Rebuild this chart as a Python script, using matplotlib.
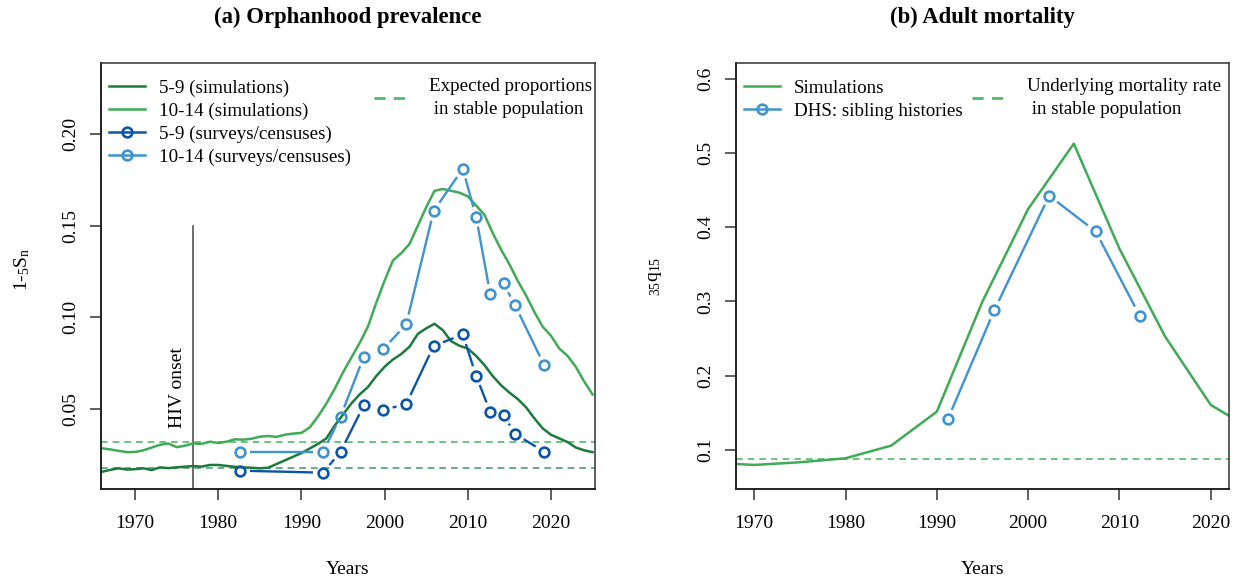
import numpy as np
import matplotlib
matplotlib.use("Agg")
import matplotlib.pyplot as plt
from matplotlib.collections import LineCollection
from matplotlib.lines import Line2D

plt.rcParams['font.family'] = ['Liberation Serif', 'DejaVu Serif']
plt.rcParams['mathtext.default'] = 'regular'
plt.rcParams['mathtext.fontset'] = 'custom'
plt.rcParams['mathtext.rm'] = 'Liberation Serif'

# ---------------- Panel (a) data ----------------
sim_years = list(range(1966, 2026))
sim_5_9 = [0.0158, 0.0168, 0.0177, 0.0170, 0.0172, 0.0177, 0.0167, 0.0182, 0.0178, 0.0182,
           0.0186, 0.0189, 0.0186, 0.0195, 0.0195, 0.0190, 0.0185, 0.0182, 0.0180, 0.0177,
           0.0180, 0.0200, 0.0220, 0.0240, 0.0260, 0.0285, 0.0310, 0.0340, 0.0410, 0.0470,
           0.0530, 0.0580, 0.0620, 0.0680, 0.0730, 0.0770, 0.0800, 0.0840, 0.0910, 0.0940,
           0.0965, 0.0930, 0.0870, 0.0845, 0.0830, 0.0790, 0.0740, 0.0680, 0.0630, 0.0590,
           0.0555, 0.0510, 0.0450, 0.0395, 0.0360, 0.0340, 0.0320, 0.0290, 0.0275, 0.0265]
sim_10_14 = [0.0286, 0.0280, 0.0272, 0.0265, 0.0266, 0.0275, 0.0290, 0.0305, 0.0312, 0.0292,
             0.0300, 0.0313, 0.0310, 0.0322, 0.0315, 0.0322, 0.0335, 0.0333, 0.0338, 0.0349,
             0.0353, 0.0348, 0.0360, 0.0366, 0.0370, 0.0400, 0.0460, 0.0530, 0.0610, 0.0700,
             0.0780, 0.0860, 0.0950, 0.1080, 0.1200, 0.1310, 0.1350, 0.1400, 0.1500, 0.1600,
             0.1690, 0.1700, 0.1690, 0.1680, 0.1660, 0.1610, 0.1560, 0.1460, 0.1370, 0.1290,
             0.1200, 0.1120, 0.1030, 0.0950, 0.0900, 0.0830, 0.0790, 0.0730, 0.0650, 0.0580]

survey_years = [1982.6, 1992.6, 1994.7, 1997.5, 1999.8, 2002.6, 2005.9, 2009.4,
                2011.0, 2012.7, 2014.3, 2015.7, 2019.2]
survey_5_9 = [0.0164, 0.0153, 0.0267, 0.0520, 0.0495, 0.0527, 0.0844, 0.0907,
              0.0682, 0.0485, 0.0467, 0.0364, 0.0267]
survey_10_14 = [0.0267, 0.0267, 0.0458, 0.0785, 0.0825, 0.0962, 0.1580, 0.1810,
                0.1549, 0.1127, 0.1185, 0.1065, 0.0738]

stable_5_9 = 0.0180
stable_10_14 = 0.0322
hiv_onset = 1977.0

# ---------------- Panel (b) data ----------------
mort_years = [1965, 1970, 1975, 1980, 1985, 1990, 1995, 2000, 2005, 2010, 2015, 2020, 2025]
mort_sim = [0.083, 0.0798, 0.0834, 0.0888, 0.1058, 0.1516, 0.300, 0.4244, 0.5124,
            0.3709, 0.2527, 0.1606, 0.124]
dhs_years = [1991.2, 1996.3, 2002.3, 2007.4, 2012.2]
dhs_vals = [0.1414, 0.2883, 0.4423, 0.3942, 0.2810]
stable_mort = 0.0883

# ---------------- colours ----------------
c_dgreen = '#1b7a3c'
c_lgreen = '#3fab57'
c_dblue = '#0b56a4'
c_lblue = '#3f93cf'
c_dash_hi = '#55b86c'
c_dash_lo = '#4f9d78'

FS = 14
LFS = 13.7
W, H = 1240, 581
fig = plt.figure(figsize=(W / 100, H / 100), dpi=100)

def axes_px(left, right, top, bottom):
    return fig.add_axes([left / W, 1 - bottom / H, (right - left) / W, (bottom - top) / H])

axA = axes_px(101, 595, 63, 489)
axB = axes_px(736, 1229, 63, 489)

def style_axes(ax):
    for s in ['top', 'right']:
        ax.spines[s].set_linewidth(1.1)
        ax.spines[s].set_color('#333333')
    for s in ['left', 'bottom']:
        ax.spines[s].set_linewidth(1.4)
        ax.spines[s].set_color('#222222')
    ax.tick_params(axis='both', direction='out', length=8, width=1.1, labelsize=FS,
                   color='#333333')
    ax.tick_params(axis='x', pad=10.5)
    ax.tick_params(axis='y', pad=7.5, labelrotation=90)
    for lab in ax.get_yticklabels():
        lab.set_va('center')

def gapped(ax, x, y, gap_px, color, lw):
    pts = ax.transData.transform(np.column_stack([x, y]))
    inv = ax.transData.inverted()
    segs = []
    for p, q in zip(pts[:-1], pts[1:]):
        d = q - p
        L = np.hypot(*d)
        if L <= 2 * gap_px + 1:
            continue
        u = d / L
        segs.append(inv.transform(np.array([p + u * gap_px, q - u * gap_px])))
    ax.add_collection(LineCollection(segs, colors=color, linewidths=lw, capstyle='butt'))
    ax.plot(x, y, linestyle='none', marker='o', ms=7, mfc='none', mec=color, mew=1.9)

def dashed_legend(ax, label, x_px_from_left, ax_w):
    leg = ax.legend([Line2D([], [], color=c_dash_hi, lw=2, ls=(0, (4, 3)))], [label],
                    loc='upper left', bbox_to_anchor=(x_px_from_left / ax_w, 0.982),
                    frameon=False, fontsize=LFS, handlelength=1.7, handletextpad=1.2,
                    borderaxespad=0.2, borderpad=0.2)
    for t in leg.get_texts():
        t.set_linespacing(1.45)
    return leg

# ---------------- Panel (a) ----------------
axA.set_xlim(1965.9, 2025.3)
axA.set_ylim(0.0064, 0.2387)
axA.set_xticks([1970, 1980, 1990, 2000, 2010, 2020])
axA.set_yticks([0.05, 0.10, 0.15, 0.20])
axA.set_yticklabels(['0.05', '0.10', '0.15', '0.20'])
style_axes(axA)

axA.axhline(stable_10_14, color=c_dash_hi, lw=1.2, ls=(0, (4, 3)))
axA.axhline(stable_5_9, color=c_dash_lo, lw=1.2, ls=(0, (4, 3)))
axA.plot([hiv_onset, hiv_onset], [0.0064, 0.15], color='#444444', lw=1.1)
axA.text(1975.1, 0.0394, 'HIV onset', rotation=90, ha='center', va='bottom', fontsize=FS)

axA.plot(sim_years, sim_10_14, color=c_lgreen, lw=1.8)
axA.plot(sim_years, sim_5_9, color=c_dgreen, lw=1.8)
gapped(axA, survey_years, survey_10_14, 10, c_lblue, 1.7)
gapped(axA, survey_years, survey_5_9, 10, c_dblue, 1.7)

hA = [Line2D([], [], color=c_dgreen, lw=1.8),
      Line2D([], [], color=c_lgreen, lw=1.8),
      Line2D([], [], color=c_dblue, lw=1.8, marker='o', ms=7, mfc='none', mew=1.9),
      Line2D([], [], color=c_lblue, lw=1.8, marker='o', ms=7, mfc='none', mew=1.9)]
legA = axA.legend(hA, ['5-9 (simulations)', '10-14 (simulations)',
                       '5-9 (surveys/censuses)', '10-14 (surveys/censuses)'],
                  loc='upper left', bbox_to_anchor=(0.0, 0.979), frameon=False,
                  fontsize=LFS, handlelength=1.9, handletextpad=0.75, labelspacing=0.30,
                  borderaxespad=0.2, borderpad=0.2)
axA.add_artist(legA)
dashed_legend(axA, 'Expected proportions\n in stable population', 366 - 101, 494)

axA.set_xlabel('Years', fontsize=FS)
axA.xaxis.set_label_coords(0.5, -0.17)
axA.set_ylabel('1-$_5$S$_n$', fontsize=FS)
axA.yaxis.set_label_coords((32 - 101) / 494, 0.515)
axA.text(0.5, 1.106, '(a) Orphanhood prevalence', transform=axA.transAxes,
         ha='center', va='center', fontsize=16.4, fontweight='bold')

# ---------------- Panel (b) ----------------
axB.set_xlim(1968.0, 2022.0)
axB.set_ylim(0.0474, 0.621)
axB.set_xticks([1970, 1980, 1990, 2000, 2010, 2020])
axB.set_yticks([0.1, 0.2, 0.3, 0.4, 0.5, 0.6])
axB.set_yticklabels(['0.1', '0.2', '0.3', '0.4', '0.5', '0.6'])
style_axes(axB)

axB.axhline(stable_mort, color=c_dash_hi, lw=1.2, ls=(0, (4, 3)))
axB.plot(mort_years, mort_sim, color=c_lgreen, lw=1.8)
gapped(axB, dhs_years, dhs_vals, 10, c_lblue, 1.7)

hB = [Line2D([], [], color=c_lgreen, lw=1.8),
      Line2D([], [], color=c_lblue, lw=1.8, marker='o', ms=7, mfc='none', mew=1.9)]
legB = axB.legend(hB, ['Simulations', 'DHS: sibling histories'],
                  loc='upper left', bbox_to_anchor=(0.0, 0.979), frameon=False,
                  fontsize=LFS, handlelength=1.9, handletextpad=0.75, labelspacing=0.30,
                  borderaxespad=0.2, borderpad=0.2)
axB.add_artist(legB)
dashed_legend(axB, 'Underlying mortality rate\n in stable population', 964 - 736, 493)

axB.set_xlabel('Years', fontsize=FS)
axB.xaxis.set_label_coords(0.5, -0.17)
axB.set_ylabel('$_{35}$q$_{15}$', fontsize=FS)
axB.yaxis.set_label_coords((664 - 736) / 493, 0.5)
axB.text(0.5, 1.106, '(b) Adult mortality', transform=axB.transAxes,
         ha='center', va='center', fontsize=16.4, fontweight='bold')

fig.savefig('out.png', dpi=100)
